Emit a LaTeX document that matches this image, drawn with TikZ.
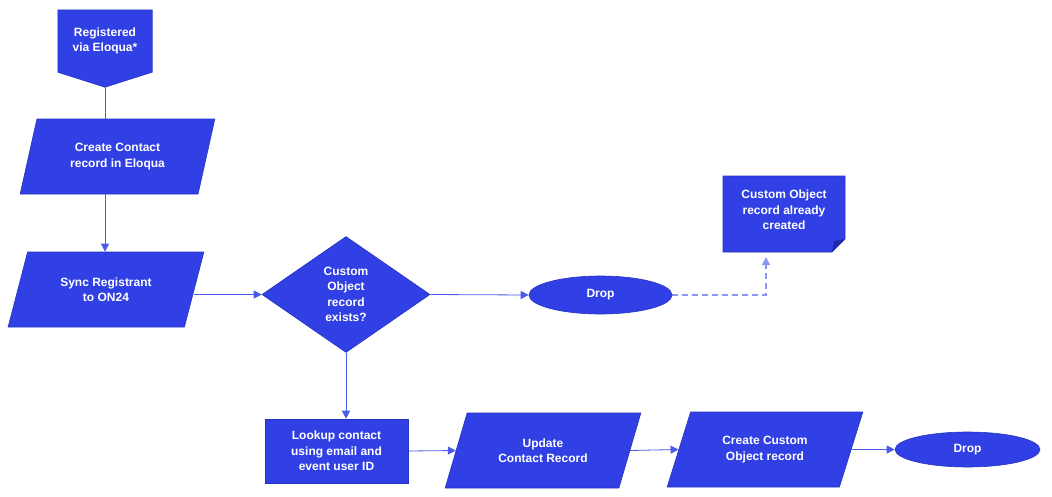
\documentclass[tikz,border=0pt]{standalone}
\usepackage{fontspec}
\setmainfont{Liberation Sans}
\usetikzlibrary{shapes.geometric,arrows.meta,backgrounds}
\definecolor{fillblue}{HTML}{3040E4}
\definecolor{edgeblue}{HTML}{2634C0}
\definecolor{lineblue}{HTML}{4A5AEA}
\definecolor{dashblue}{HTML}{8C96F2}
\definecolor{foldblue}{HTML}{1E2AA8}
\begin{document}
\begin{tikzpicture}[x=1pt,y=-1pt,
  txt/.style={text=white, font=\bfseries\fontsize{12}{15.5}\selectfont, align=center, inner sep=0pt},
  shp/.style={txt, draw=edgeblue, line width=0.6pt, fill=fillblue},
  para/.style={shp, trapezium, trapezium stretches=true, minimum width=196pt, minimum height=75pt},
  rectbox/.style={shp, rectangle},
  dec/.style={shp, diamond, minimum width=168pt, minimum height=116pt},
  term/.style={shp, ellipse},
  link/.style={draw=lineblue, line width=0.8pt},
  arr/.style={link, -{Triangle[length=8pt,width=8pt]}},
  dasharr/.style={draw=dashblue, line width=1.4pt, dash pattern=on 6pt off 4pt, -{Triangle[length=8pt,width=8pt]}}
]
\useasboundingbox (0,0) rectangle (1052,496);
\node[para, trapezium left angle=69.5, trapezium right angle=110.5, minimum width=195pt] (cc) at (117.5,156.5) {Create Contact\\record in Eloqua};
\node[para, trapezium left angle=65, trapezium right angle=115] (sync) at (106,289.5) {Sync Registrant\\to ON24};
\node[dec] (dia) at (346,294.5) {Custom\\Object\\record\\exists?};
\node[term, minimum width=143pt, minimum height=38pt] (drop1) at (600.5,295) {Drop};
\node[txt] (note) at (784,210) {Custom Object\\record already\\created};
\coordinate (notebot) at (766,257);
\node[rectbox, minimum width=143pt, minimum height=64pt] (look) at (336.5,451) {Lookup contact\\using email and\\event user ID};
\node[para, trapezium left angle=62, trapezium right angle=118] (upd) at (543,450.5) {Update\\Contact Record};
\node[para, trapezium left angle=63, trapezium right angle=117] (ccr) at (765,449.5) {Create Custom\\Object record};
\node[term, minimum width=145pt, minimum height=35pt] (drop2) at (967.5,449.5) {Drop};
\node[txt, minimum width=94pt, minimum height=62pt] (reg) at (105,41) {Registered\\via Eloqua*};
\coordinate (regtip) at ([yshift=-15pt]reg.south);
\begin{scope}[on background layer]
\filldraw[draw=edgeblue, fill=fillblue, line width=0.6pt] (reg.north west) -- (reg.north east) -- (reg.south east) -- (regtip) -- (reg.south west) -- cycle;
\filldraw[draw=edgeblue, fill=fillblue, line width=0.6pt] (723,176) -- (845,176) -- (845,239) -- (832,252) -- (723,252) -- cycle;
\fill[foldblue] (845,239) -- (832,252) -- (834,241) -- cycle;
\draw[link] (regtip) -- (regtip |- cc.north);
\draw[arr] (regtip |- cc.south) -- (regtip |- sync.north);
\draw[arr] (sync.east |- dia.west) -- (dia.west);
\draw[arr] (dia.east) -- (drop1.west);
\draw[dasharr] (drop1.east) -| (notebot);
\draw[arr] (dia.south) -- (dia.south |- look.north);
\draw[arr] (look.east) -- (upd.west);
\draw[arr] (upd.east) -- (ccr.west);
\draw[arr] (ccr.east) -- (drop2.west);
\end{scope}
\end{tikzpicture}
\end{document}
